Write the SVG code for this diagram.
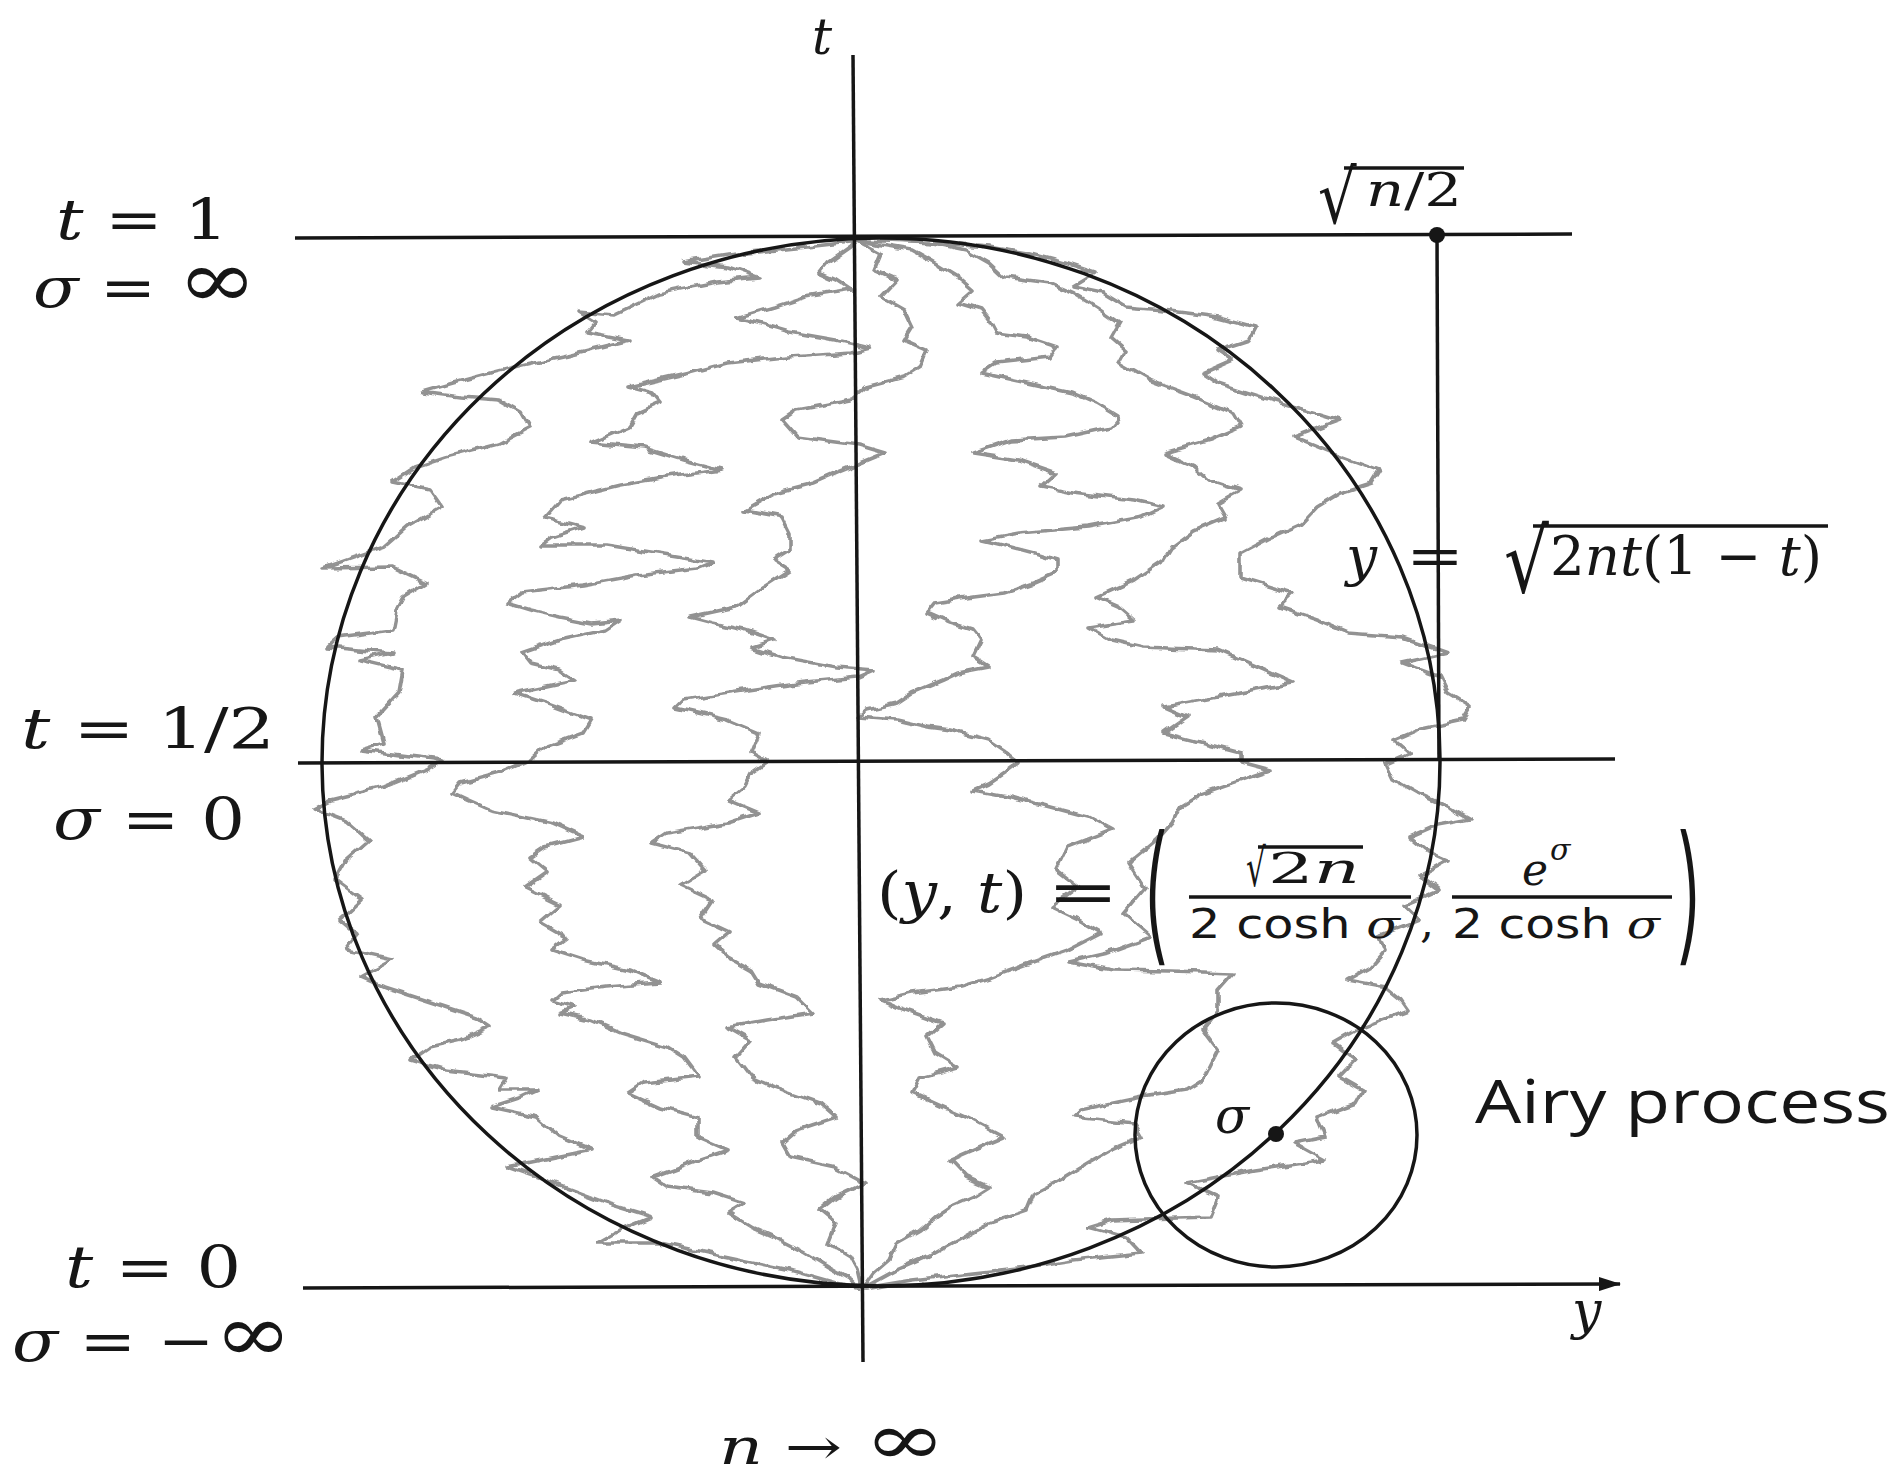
<svg xmlns="http://www.w3.org/2000/svg" width="1900" height="1480" viewBox="0 0 1900 1480">
<defs>
<style>
.ax{stroke:#161616;stroke-width:3.5;fill:none}
.walk{stroke:#929292;stroke-width:3.6;fill:none;stroke-linejoin:round;stroke-linecap:round}
.m{font-family:"DejaVu Serif","Liberation Serif",serif;fill:#161616}
.i{font-style:italic}
.s{font-family:"Open Sans","DejaVu Sans",sans-serif;fill:#161616}
.ds{font-family:"DejaVu Sans","Open Sans",sans-serif;fill:#161616}
.big{font-family:Inter,"DejaVu Sans",sans-serif;font-weight:300;fill:#161616}
</style>
<filter id="jitter" filterUnits="userSpaceOnUse" x="0" y="0" width="1900" height="1480">
<feTurbulence type="fractalNoise" baseFrequency="0.06" numOctaves="2" seed="7" result="n"/>
<feDisplacementMap in="SourceGraphic" in2="n" scale="8" xChannelSelector="R" yChannelSelector="G"/>
</filter>
<marker id="arr" viewBox="0 0 22 14" refX="21" refY="7" markerWidth="22" markerHeight="14" markerUnits="userSpaceOnUse" orient="auto">
<path d="M0,0 L22,7 L0,14 Z" fill="#161616"/>
</marker>
</defs>
<rect width="1900" height="1480" fill="#ffffff"/>

<g id="random-walks" class="walk" filter="url(#jitter)">
<polyline id="walk-a" points="855,240 851,242 797,248 728,255 683,262 728,267 759,278 717,282 660,293 614,315 579,312 595,322 587,332 629,340 568,355 522,365 491,373 453,383 422,392 461,397 499,400 522,413 530,427 499,443 445,457 415,467 392,482 430,490 442,507 407,527 384,547 346,560 323,568 392,567 426,583 403,597 396,610 392,630 338,637 327,647 392,653 361,660 403,670 399,693 377,717 384,743 361,750 442,760 426,770 384,787 331,800 315,808 346,820 369,840 346,860 335,880 362,900 340,920 358,935 346,950 392,960 361,977 384,987 415,997 476,1017 491,1027 461,1040 430,1047 411,1060 445,1070 507,1077 499,1090 537,1090 522,1097 491,1107 537,1117 560,1137 591,1150 507,1167 553,1183 606,1203 652,1217 621,1230 598,1243 660,1243 728,1257 790,1270 836,1283 858,1287"/>
<polyline id="walk-b" points="856,240 851,247 828,263 820,273 836,280 851,290 805,297 774,307 736,318 759,323 790,332 836,340 870,348 851,353 774,358 728,363 690,373 629,387 652,393 660,403 637,413 629,427 591,443 644,448 683,460 721,470 667,477 621,485 560,500 545,517 583,527 552,537 541,545 606,545 683,557 713,562 698,568 637,575 583,585 522,592 507,603 530,610 560,617 591,623 621,620 606,630 560,640 522,653 530,663 560,670 575,680 514,693 545,703 591,720 583,733 545,747 530,760 499,773 461,783 453,793 468,800 491,810 552,823 583,837 545,847 530,857 548,872 525,888 560,905 540,922 568,938 552,950 583,960 629,970 660,983 606,987 560,993 552,1000 575,1007 560,1013 591,1020 621,1033 667,1047 683,1057 698,1077 644,1083 629,1093 660,1107 698,1117 698,1137 728,1150 698,1160 652,1177 667,1187 713,1193 744,1203 728,1213 751,1227 774,1237 805,1253 828,1267 851,1280 858,1287"/>
<polyline id="walk-c" points="857,240 862,243 881,253 874,270 897,280 881,297 904,310 912,327 904,340 927,350 920,367 904,377 866,387 851,400 797,410 782,420 797,437 858,445 885,453 851,467 836,473 813,483 774,493 744,510 782,517 790,533 790,550 774,560 790,570 759,590 736,607 690,617 713,623 744,630 774,640 751,647 782,657 836,667 874,670 858,677 797,683 728,693 683,700 675,708 698,713 728,720 759,733 751,753 767,762 751,773 744,787 728,800 759,813 728,823 667,833 652,843 690,853 705,870 680,885 712,900 700,918 730,932 715,945 728,957 751,970 759,983 797,997 813,1013 767,1020 728,1027 751,1040 736,1057 751,1077 774,1087 820,1103 836,1117 797,1130 782,1143 790,1157 836,1167 866,1183 836,1197 820,1210 836,1223 828,1243 851,1257 858,1270 862,1287"/>
<polyline id="walk-d" points="858,240 881,245 912,250 935,263 958,277 973,290 958,303 981,310 989,320 996,333 1027,337 1057,347 1050,357 996,363 981,373 1027,383 1073,393 1096,403 1119,417 1111,427 1065,437 1011,440 973,453 1019,460 1057,473 1042,487 1073,493 1134,500 1164,507 1142,517 1088,527 1019,533 981,540 1011,547 1034,553 1057,560 1057,573 1034,583 1004,593 973,597 935,603 927,613 950,623 973,630 981,640 973,657 989,667 958,673 943,680 912,693 897,703 866,710 858,717 897,720 927,727 950,730 989,740 1004,750 1019,762 1004,773 989,783 973,790 1011,797 1050,807 1088,817 1112,830 1068,847 1057,870 1079,887 1052,907 1079,920 1101,933 1068,950 1025,965 990,978 960,987 912,993 881,1000 897,1007 943,1023 927,1037 935,1053 958,1067 920,1077 912,1093 943,1107 966,1117 1004,1137 973,1150 950,1160 966,1177 989,1187 973,1197 950,1207 935,1217 920,1230 897,1243 889,1260 874,1273 864,1287"/>
<polyline id="walk-e" points="860,240 927,242 966,250 989,263 1004,277 1050,283 1073,293 1096,307 1119,323 1111,337 1126,350 1119,363 1149,380 1195,397 1233,413 1241,427 1210,440 1164,453 1195,467 1210,480 1241,490 1218,503 1226,517 1195,530 1172,547 1164,560 1134,580 1096,597 1119,607 1134,620 1088,627 1111,640 1142,647 1218,650 1241,660 1264,670 1294,683 1218,697 1164,707 1187,717 1164,733 1203,743 1241,753 1241,762 1271,770 1241,780 1203,793 1180,807 1172,823 1157,840 1145,850 1129,863 1145,887 1123,913 1151,937 1107,953 1068,962 1112,970 1170,971 1233,973 1218,990 1218,1010 1203,1030 1218,1050 1203,1080 1187,1090 1142,1097 1080,1110 1073,1117 1134,1123 1142,1137 1111,1150 1088,1163 1065,1177 1034,1193 1027,1210 989,1223 958,1240 927,1257 897,1270 866,1287"/>
<polyline id="walk-f" points="862,240 935,243 989,247 1027,253 1065,263 1096,273 1073,287 1103,293 1126,307 1164,310 1218,317 1256,327 1249,340 1218,350 1233,360 1203,373 1218,383 1271,400 1317,413 1340,420 1294,437 1333,453 1379,470 1371,483 1340,493 1317,507 1302,523 1271,537 1241,553 1241,577 1294,593 1279,607 1317,620 1348,633 1402,637 1448,653 1402,663 1440,677 1448,693 1471,707 1463,720 1417,730 1394,740 1409,753 1386,763 1394,780 1417,793 1448,807 1471,820 1432,827 1409,837 1425,850 1448,860 1420,875 1440,890 1405,905 1420,920 1380,935 1386,950 1371,967 1348,980 1386,987 1402,1000 1409,1010 1356,1030 1333,1043 1356,1060 1340,1077 1363,1090 1356,1103 1317,1117 1325,1137 1294,1143 1325,1160 1256,1170 1187,1183 1218,1197 1210,1217 1111,1220 1088,1227 1126,1237 1141,1253 1073,1260 1027,1267 973,1273 912,1280 870,1287"/>
</g>

<g id="connectors">
<line id="t-axis" class="ax" x1="853" y1="55" x2="863" y2="1362"/>
<line id="line-t1" class="ax" x1="295" y1="238" x2="1572" y2="234"/>
<line id="line-thalf" class="ax" x1="298" y1="763" x2="1615" y2="759"/>
<line id="y-axis" class="ax" x1="303" y1="1288" x2="1620" y2="1284" marker-end="url(#arr)"/>
<line id="drop" class="ax" x1="1437" y1="235" x2="1439" y2="760"/>
</g>

<g id="limit-circle">
<ellipse class="ax" cx="881" cy="762" rx="559" ry="524" stroke-width="4" transform="rotate(-0.3 881 762)"/>
</g>

<g id="airy-window">
<ellipse class="ax" cx="1276" cy="1135" rx="141" ry="132"/>
<circle cx="1276" cy="1134" r="8" fill="#161616"/>
</g>

<g id="top-point">
<circle cx="1437" cy="235" r="8" fill="#161616"/>
</g>

<g id="labels">
<text class="m i" x="812" y="54" font-size="50">t</text>
<text class="m i" x="1572" y="1328" font-size="52">y</text>

<text class="m" x="56" y="239" font-size="56" textLength="172" lengthAdjust="spacingAndGlyphs"><tspan class="i">t</tspan> = 1</text>
<text class="m" x="33" y="307" font-size="56" textLength="224" lengthAdjust="spacingAndGlyphs"><tspan class="i">σ</tspan> = <tspan font-size="80">∞</tspan></text>
<text class="m" x="21" y="748" font-size="56" textLength="254" lengthAdjust="spacingAndGlyphs"><tspan class="i">t</tspan> = 1/2</text>
<text class="m" x="53" y="839" font-size="58" textLength="192" lengthAdjust="spacingAndGlyphs"><tspan class="i">σ</tspan> = 0</text>
<text class="m" x="65" y="1287" font-size="58" textLength="176" lengthAdjust="spacingAndGlyphs"><tspan class="i">t</tspan> = 0</text>
<text class="m" x="12" y="1361" font-size="58" textLength="280" lengthAdjust="spacingAndGlyphs"><tspan class="i">σ</tspan> = −<tspan font-size="80">∞</tspan></text>
<text class="m" x="719" y="1464" font-size="50" textLength="227" lengthAdjust="spacingAndGlyphs"><tspan class="i">n</tspan> → <tspan font-size="72">∞</tspan></text>

<text class="m" font-size="74" transform="translate(1318 223) scale(0.82 1)">√</text>
<line class="ax" x1="1344" y1="168" x2="1464" y2="168" stroke-width="2.5"/>
<text class="m" x="1366" y="206" font-size="46" textLength="96" lengthAdjust="spacingAndGlyphs"><tspan class="i">n</tspan>/2</text>

<text class="m i" x="1346" y="575" font-size="55">y</text>
<text class="m" x="1406" y="575" font-size="55" textLength="58" lengthAdjust="spacingAndGlyphs">=</text>
<text class="m" font-size="88" transform="translate(1504 592) scale(0.8 1)">√</text>
<line class="ax" x1="1533" y1="526" x2="1828" y2="526" stroke-width="2.5"/>
<text class="m" x="1550" y="575" font-size="55" textLength="272" lengthAdjust="spacingAndGlyphs">2<tspan class="i">nt</tspan>(1 − <tspan class="i">t</tspan>)</text>

<text class="m" x="877" y="912" font-size="56" textLength="150" lengthAdjust="spacingAndGlyphs">(<tspan class="i">y</tspan>, <tspan class="i">t</tspan>)</text>
<text class="m" x="1047" y="912" font-size="60" textLength="72" lengthAdjust="spacingAndGlyphs">=</text>
<text class="big" x="1141" y="945" font-size="150" textLength="28" lengthAdjust="spacingAndGlyphs">(</text>
<text class="m" font-size="52" transform="translate(1246 886) scale(0.6 1)">√</text>
<line class="ax" x1="1258" y1="847" x2="1363" y2="847" stroke-width="2.5"/>
<text class="m" x="1268" y="883" font-size="42" textLength="92" lengthAdjust="spacingAndGlyphs">2<tspan class="i">n</tspan></text>
<line class="ax" x1="1189" y1="897" x2="1411" y2="897"/>
<text class="ds" x="1189" y="938" font-size="40" textLength="211" lengthAdjust="spacingAndGlyphs">2 cosh <tspan class="m i">σ</tspan></text>
<text class="m" x="1420" y="937" font-size="44">,</text>
<text class="m i" x="1522" y="885" font-size="44">e<tspan x="1550" y="860" font-size="30">σ</tspan></text>
<line class="ax" x1="1452" y1="897" x2="1672" y2="897"/>
<text class="ds" x="1452" y="938" font-size="40" textLength="208" lengthAdjust="spacingAndGlyphs">2 cosh <tspan class="m i">σ</tspan></text>
<text class="big" x="1676" y="945" font-size="150" textLength="28" lengthAdjust="spacingAndGlyphs">)</text>

<text class="m i" x="1215" y="1133" font-size="50">σ</text>
<text class="s" x="1475" y="1123" font-size="60" textLength="415" lengthAdjust="spacingAndGlyphs">Airy process</text>
</g>
</svg>
